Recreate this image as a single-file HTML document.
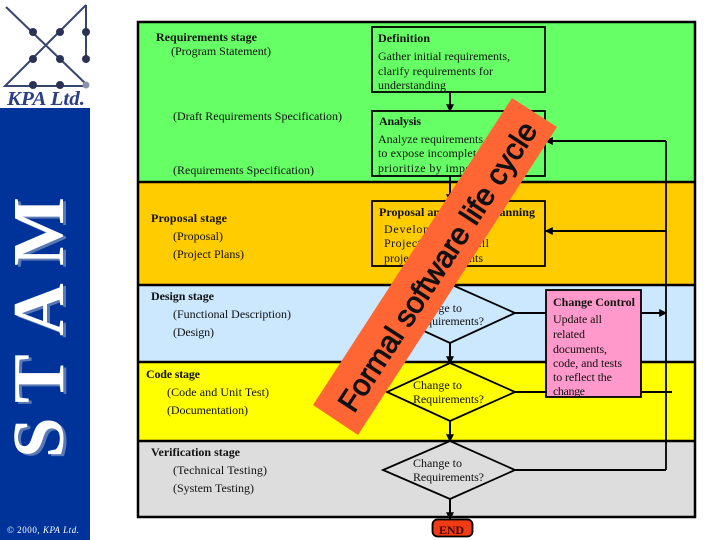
<!DOCTYPE html>
<html><head><meta charset="utf-8"><style>
html,body{margin:0;padding:0;background:#fff}
svg{display:block}
text{font-family:"Liberation Serif",serif;font-size:12px;fill:#111}
.b{font-weight:bold}
</style></head><body>
<svg width="720" height="540" viewBox="0 0 720 540" xmlns="http://www.w3.org/2000/svg">
<defs><marker id="a" markerWidth="4" markerHeight="4" refX="3.4" refY="2" orient="auto"><path d="M0,0L4,2L0,4z" fill="#000"/></marker></defs>
<rect x="0" y="108" width="90" height="432" fill="#003399"/>
<g stroke="#37466f" stroke-width="2" fill="none"><path d="M6,7L86,84M86,5L5,86H86M86,5V59"/></g>
<g fill="#2a3354"><circle cx="33" cy="32" r="4"/><circle cx="60" cy="32" r="4"/><circle cx="86" cy="32" r="4"/><circle cx="33" cy="59" r="4"/><circle cx="60" cy="59" r="4"/><circle cx="86" cy="59" r="4"/><circle cx="33" cy="85" r="4"/><circle cx="60" cy="85" r="4"/><circle cx="86" cy="85" r="3.5" fill="#8d94aa"/></g>
<text x="7" y="105" lengthAdjust="spacingAndGlyphs" style="font-size:20px;font-weight:bold;font-style:italic;fill:#2c3f86" textLength="78">KPA Ltd.</text>
<text transform="translate(66,2) rotate(-90)" style="font-size:73px;font-weight:bold;fill:#5a79b4"><tspan x="-458">S</tspan><tspan x="-403">T</tspan><tspan x="-336">A</tspan><tspan x="-266">M</tspan></text>
<text transform="translate(63,0) rotate(-90)" style="font-size:73px;font-weight:bold;fill:#fff"><tspan x="-458">S</tspan><tspan x="-403">T</tspan><tspan x="-336">A</tspan><tspan x="-266">M</tspan></text>
<text x="7" y="533" style="font-size:9px;fill:#fff" textLength="72">© 2000, <tspan font-style="italic">KPA Ltd.</tspan></text>

<rect x="138" y="22" width="557" height="160" fill="#66ff66"/>
<rect x="138" y="182" width="557" height="103" fill="#ffcc00"/>
<rect x="138" y="285" width="557" height="77" fill="#cce8ff"/>
<rect x="138" y="362" width="557" height="79" fill="#ffff00"/>
<rect x="138" y="441" width="557" height="76" fill="#dddddd"/>
<g stroke="#000" stroke-width="2.5" fill="none">
<rect x="138" y="22" width="557" height="495"/>
<path d="M138,182H695M138,285H695M138,362H695M138,441H695"/>
</g>
<g stroke="#000" stroke-width="2" fill="none">
<path d="M666,141V470" stroke-width="1.8"/>
<path d="M666,141H546" marker-end="url(#a)"/>
<path d="M666,231H546" marker-end="url(#a)"/>
<path d="M515,313H666" marker-end="url(#a)"/>
<path d="M515,392H672"/>
<path d="M515,470H666"/>
<path d="M450,92V111" marker-end="url(#a)"/>
<path d="M450,176V201" marker-end="url(#a)"/>
<path d="M450,266V284" marker-end="url(#a)"/>
<path d="M450,343V363" marker-end="url(#a)"/>
<path d="M450,421V441" marker-end="url(#a)"/>
<path d="M450,499V519" marker-end="url(#a)"/>
</g>
<g stroke="#000" stroke-width="1.8">
<rect x="372" y="27" width="173" height="65" fill="#66ff66"/>
<rect x="372" y="111" width="173" height="65" fill="#66ff66"/>
<rect x="372" y="201" width="173" height="65" fill="#ffcc00"/>
<path d="M450,284L515,313L450,343L385,313z" fill="#cce8ff"/>
<path d="M450,363L515,392L450,421L387,392z" fill="#ffff00"/>
<path d="M450,441L515,470L450,499L383,470z" fill="#dddddd"/>
<rect x="546" y="290" width="95" height="107" fill="#ff99cc"/>
<rect x="432.500" y="519.500" width="40" height="17" rx="5" fill="#f03c14"/>
</g>

<text class="b" x="156" y="41" textLength="101">Requirements stage</text>
<text x="171" y="55" textLength="100">(Program Statement)</text>
<text x="173" y="120" textLength="169">(Draft Requirements Specification)</text>
<text x="173" y="174" textLength="141">(Requirements Specification)</text>
<text class="b" x="151" y="222" textLength="76">Proposal  stage</text>
<text x="173" y="240" textLength="50">(Proposal)</text>
<text x="173" y="258" textLength="71">(Project Plans)</text>
<text class="b" x="151" y="300" textLength="63">Design stage</text>
<text x="173" y="318" textLength="118">(Functional Description)</text>
<text x="173" y="336" textLength="41">(Design)</text>
<text class="b" x="146" y="378" textLength="54">Code stage</text>
<text x="167" y="396" textLength="102">(Code and Unit Test)</text>
<text x="167" y="414" textLength="81">(Documentation)</text>
<text class="b" x="151" y="456" textLength="89">Verification stage</text>
<text x="173" y="474" textLength="94">(Technical Testing)</text>
<text x="173" y="492" textLength="81">(System Testing)</text>

<text class="b" x="378" y="42" textLength="52">Definition</text>
<text x="378" y="60" textLength="132">Gather initial requirements,</text>
<text x="378" y="75" textLength="115">clarify requirements for</text>
<text x="378" y="89" textLength="68">understanding</text>
<text class="b" x="379" y="125" textLength="42">Analysis</text>
<text x="378" y="143" textLength="105">Analyze requirements</text>
<text x="378" y="157" textLength="128">to expose incompleteness;</text>
<text x="378" y="172" textLength="125">prioritize by importance</text>
<text class="b" x="379" y="216" textLength="156">Proposal and project planning</text>
<text x="384" y="233" textLength="100">Develop proposal,</text>
<text x="384" y="247" textLength="105">Project Plans for all</text>
<text x="384" y="262" textLength="99">project requirements</text>

<text x="413" y="312" textLength="49">Change to</text>
<text x="413" y="325" textLength="71">Requirements?</text>
<text x="413" y="389" textLength="49">Change to</text>
<text x="413" y="403" textLength="71">Requirements?</text>
<text x="413" y="467" textLength="49">Change to</text>
<text x="413" y="481" textLength="71">Requirements?</text>

<text class="b" x="553" y="306" textLength="82">Change Control</text>
<text x="553" y="323" textLength="49">Update all</text>
<text x="553" y="338" textLength="32">related</text>
<text x="553" y="353" textLength="54">documents,</text>
<text x="553" y="367" textLength="69">code, and tests</text>
<text x="553" y="381" textLength="59">to reflect the</text>
<text x="553" y="395" textLength="32">change</text>
<text class="b" x="439" y="534" textLength="25" style="fill:#400">END</text>

<polygon points="512,98 557,127 358,435 313,405" fill="#ff6633"/>
<text transform="translate(354,414) rotate(-57)" x="0" y="0" style="font-family:'Liberation Sans',sans-serif;font-size:30px;fill:#111;stroke:#111;stroke-width:1">Formal software life cycle</text>
</svg>
</body></html>
